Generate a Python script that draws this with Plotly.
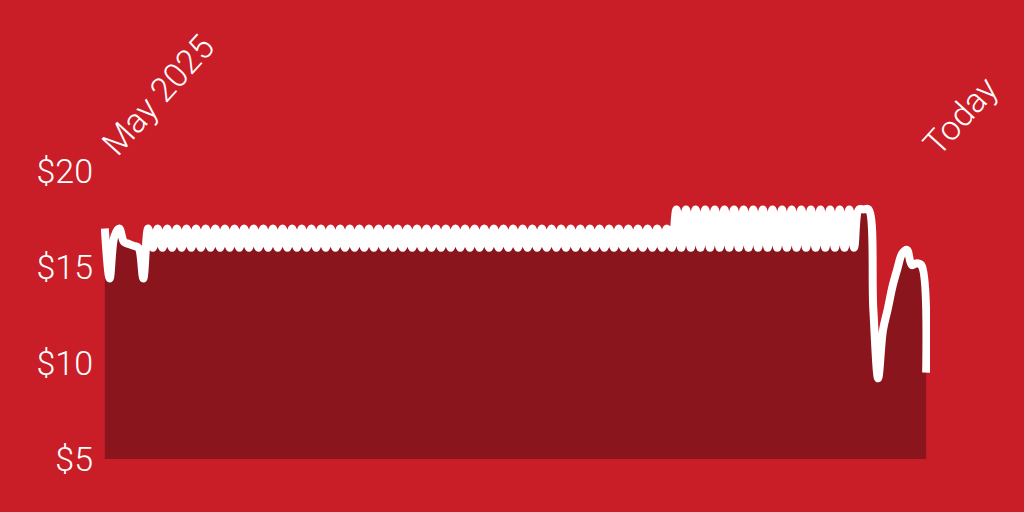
import pandas as pd
import plotly.graph_objects as go

# daily price
price = [
    17.0, 14.4, 16.6, 17.0, 16.3, 16.2, 16.1, 16.0, 14.4,
    17, 16, 17, 16, 17, 16, 17, 16, 17, 16,
    17, 16, 17, 16, 17, 16, 17, 16, 17, 16,
    17, 16, 17, 16, 17, 16, 17, 16, 17, 16,
    17, 16, 17, 16, 17, 16, 17, 16, 17, 16,
    17, 16, 17, 16, 17, 16, 17, 16, 17, 16,
    17, 16, 17, 16, 17, 16, 17, 16, 17, 16,
    17, 16, 17, 16, 17, 16, 17, 16, 17, 16,
    17, 16, 17, 16, 17, 16, 17, 16, 17, 16,
    17, 16, 17, 16, 17, 16, 17, 16, 17, 16,
    17, 16, 17, 16, 17, 16, 17, 16, 17, 16,
    17, 16, 17, 16, 17, 16, 17, 16, 17,
    16,
    18, 16, 18, 16, 18, 16, 18, 16, 18, 16,
    18, 16, 18, 16, 18, 16, 18, 16, 18, 16,
    18, 16, 18, 16, 18, 16, 18, 16, 18, 16,
    18, 16, 18, 16, 18, 16, 18, 16, 18,
    18, 18, 12.8, 9.2, 11.7, 12.8, 14.0, 14.9, 15.7, 15.9,
    15.1, 15.2, 15.1, 9.5,
]
dates = pd.date_range("2025-05-01", periods=len(price), freq="D")

y_ticks = [5, 10, 15, 20]
y_labels = ["$5", "$10", "$15", "$20"]
x_labels = ["May 2025", "Today"]

bg = "#C91D27"
fill = "#8B151C"

fig = go.Figure()
fig.add_trace(go.Scatter(
    x=dates, y=price,
    mode="lines",
    line=dict(color="white", width=8, shape="spline"),
    fill="tozeroy",
    fillcolor=fill,
    hoverinfo="skip",
))

fig.update_layout(
    width=1024, height=512,
    paper_bgcolor=bg, plot_bgcolor=bg,
    margin=dict(l=101, r=94, t=171, b=53, autoexpand=False),
    showlegend=False,
    font=dict(family="Roboto", color="white", size=34, weight=300),
)
fig.update_xaxes(
    side="top",
    range=[dates[0] - pd.Timedelta(days=0.8), dates[-1] + pd.Timedelta(days=0.8)],
    tickvals=[dates[0], dates[-1]],
    ticktext=x_labels,
    tickangle=-48,
    showgrid=False, zeroline=False, showline=False, ticks="",
    automargin=False,
)
fig.update_yaxes(
    range=[5, 20],
    tickvals=y_ticks,
    ticktext=y_labels,
    showgrid=False, zeroline=False, showline=False, ticks="",
    ticklabelstandoff=7,
    automargin=False,
)

fig.write_html(
    "out.html",
    config={"displayModeBar": False},
    post_script="document.body.style.margin='0';",
)
